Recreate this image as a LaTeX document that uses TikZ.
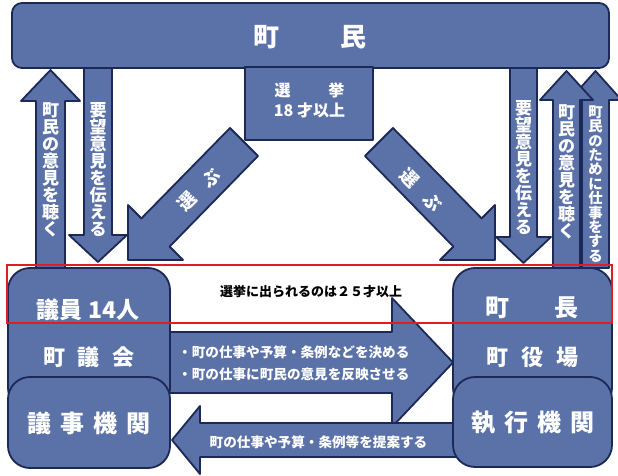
\documentclass[tikz,border=0pt]{standalone}
\usepackage{fontspec}
\setmainfont{Noto Sans CJK JP}
\definecolor{boxfill}{RGB}{91,114,168}
\definecolor{boxline}{RGB}{28,40,86}
\definecolor{redline}{RGB}{222,30,36}
\begin{document}
\begin{tikzpicture}[x=1pt,y=-1pt,
  blk/.style={fill=boxfill,draw=boxline,line width=1.8pt,line join=round},
  lbl/.style={text=white,inner sep=0pt,font=\bfseries},
  vtxt/.style={text=white,inner sep=0pt,align=center,font=\bfseries\fontsize{17}{17}\selectfont},
  vtxts/.style={text=white,inner sep=0pt,align=center,font=\bfseries\fontsize{14.4}{14.4}\selectfont},
  small/.style={text=white,inner sep=0pt,font=\bfseries\fontsize{13.6}{16}\selectfont},
]
\useasboundingbox (0,0) rectangle (618,476);

% vertical arrows
\draw[blk] (36,268) -- (36,101) -- (21,101) -- (50.5,70) -- (80,101) -- (65,101) -- (65,268) -- cycle;
\draw[blk] (84,60) -- (84,235) -- (69,235) -- (98,262) -- (127,235) -- (112,235) -- (112,60) -- cycle;
\draw[blk] (510,60) -- (510,237) -- (496,237) -- (523.5,263) -- (551,237) -- (537,237) -- (537,60) -- cycle;
\draw[blk] (582,268) -- (582,100) -- (569.5,100) -- (595.5,71) -- (621.5,100) -- (609,100) -- (609,268) -- cycle;
\draw[blk] (553,268) -- (553,100) -- (540,100) -- (566.5,71) -- (593,100) -- (580,100) -- (580,268) -- cycle;

% diagonal arrows
\draw[blk] (230,128) -- (141.4,218.4) -- (128,205) -- (128,260) -- (183,260) -- (169.6,246.6) -- (258,156) -- cycle;
\draw[blk] (393,128) -- (481.6,218.4) -- (495,205) -- (495,260) -- (440,260) -- (453.4,246.6) -- (365,156) -- cycle;

% top boxes
\node[blk, rounded corners=10pt, minimum width=597pt, minimum height=65pt] (town) at (310.5,35.5) {};
\node[blk, minimum width=128pt, minimum height=73pt] (elect) at (309,103.5) {};

% horizontal arrows
\draw[blk] (165,332) -- (392,332) -- (392,298) -- (453,362.5) -- (392,427) -- (392,393) -- (165,393) -- cycle;
\draw[blk] (172,440) -- (200,406) -- (200,423) -- (458,423) -- (458,457) -- (200,457) -- (200,474) -- cycle;

% bottom boxes
\draw[blk, rounded corners=22pt] (8,268) rectangle (170,410);
\draw[blk, rounded corners=22pt] (8,377) rectangle (170,468);
\draw[blk, rounded corners=22pt] (453,268) rectangle (612,410);
\draw[blk, rounded corners=22pt] (453,377) rectangle (612,467);

% red frame
\draw[redline, line width=2pt] (7,265) rectangle (612,323);

% texts
\node[lbl, font=\bfseries\fontsize{26}{26}\selectfont] (tTown) at (310,37) {町\hspace{62pt}民};
\node[lbl, align=center, font=\bfseries\fontsize{16}{20}\selectfont] (tElect) at (309.5,100) {選\hspace{38pt}挙\\18 才以上};

\node[vtxt] (v1) at (50.5,170) {町\\民\\の\\意\\見\\を\\聴\\く};
\node[vtxt] (v2) at (98,170) {要\\望\\意\\見\\を\\伝\\え\\る};
\node[vtxt] (v3) at (523.5,168) {要\\望\\意\\見\\を\\伝\\え\\る};
\node[vtxt] (v4) at (566.5,172) {町\\民\\の\\意\\見\\を\\聴\\く};
\node[vtxts] (v5) at (595.5,184) {町\\民\\の\\た\\め\\に\\仕\\事\\を\\す\\る};

\node[lbl, rotate=45, font=\bfseries\fontsize{18}{18}\selectfont] (d1) at (199,190) {選\hspace{15pt}ぶ};
\node[lbl, rotate=-45, font=\bfseries\fontsize{18}{18}\selectfont] (d2) at (421,190) {選\hspace{15pt}ぶ};

\node[lbl, font=\bfseries\fontsize{23}{23}\selectfont] (tGiin) at (88,310) {議員 14人};
\node[lbl, font=\bfseries\fontsize{22}{22}\selectfont] (tGikai) at (89,357) {町\hspace{13pt}議\hspace{13pt}会};
\node[lbl, font=\bfseries\fontsize{24}{24}\selectfont] (tGiji) at (89,423) {議\hspace{9pt}事\hspace{9pt}機\hspace{9pt}関};
\node[lbl, font=\bfseries\fontsize{24}{24}\selectfont] (tCho) at (532,308) {町\hspace{46pt}長};
\node[lbl, font=\bfseries\fontsize{22}{22}\selectfont] (tYakuba) at (532.5,357) {町\hspace{13pt}役\hspace{13pt}場};
\node[lbl, font=\bfseries\fontsize{24}{24}\selectfont] (tShikko) at (533,423) {執\hspace{9pt}行\hspace{9pt}機\hspace{9pt}関};

\node[inner sep=0pt, anchor=west, text=black, font=\bfseries\fontsize{13}{13}\selectfont] (tAge) at (220,292) {選挙に出られるのは２５才以上};
\node[small, anchor=west] (r1) at (178,352) {・町の仕事や予算・条例などを決める};
\node[small, anchor=west] (r2) at (178,374) {・町の仕事に町民の意見を反映させる};
\node[small] (l1) at (318.5,442) {町の仕事や予算・条例等を提案する};
\end{tikzpicture}
\end{document}
